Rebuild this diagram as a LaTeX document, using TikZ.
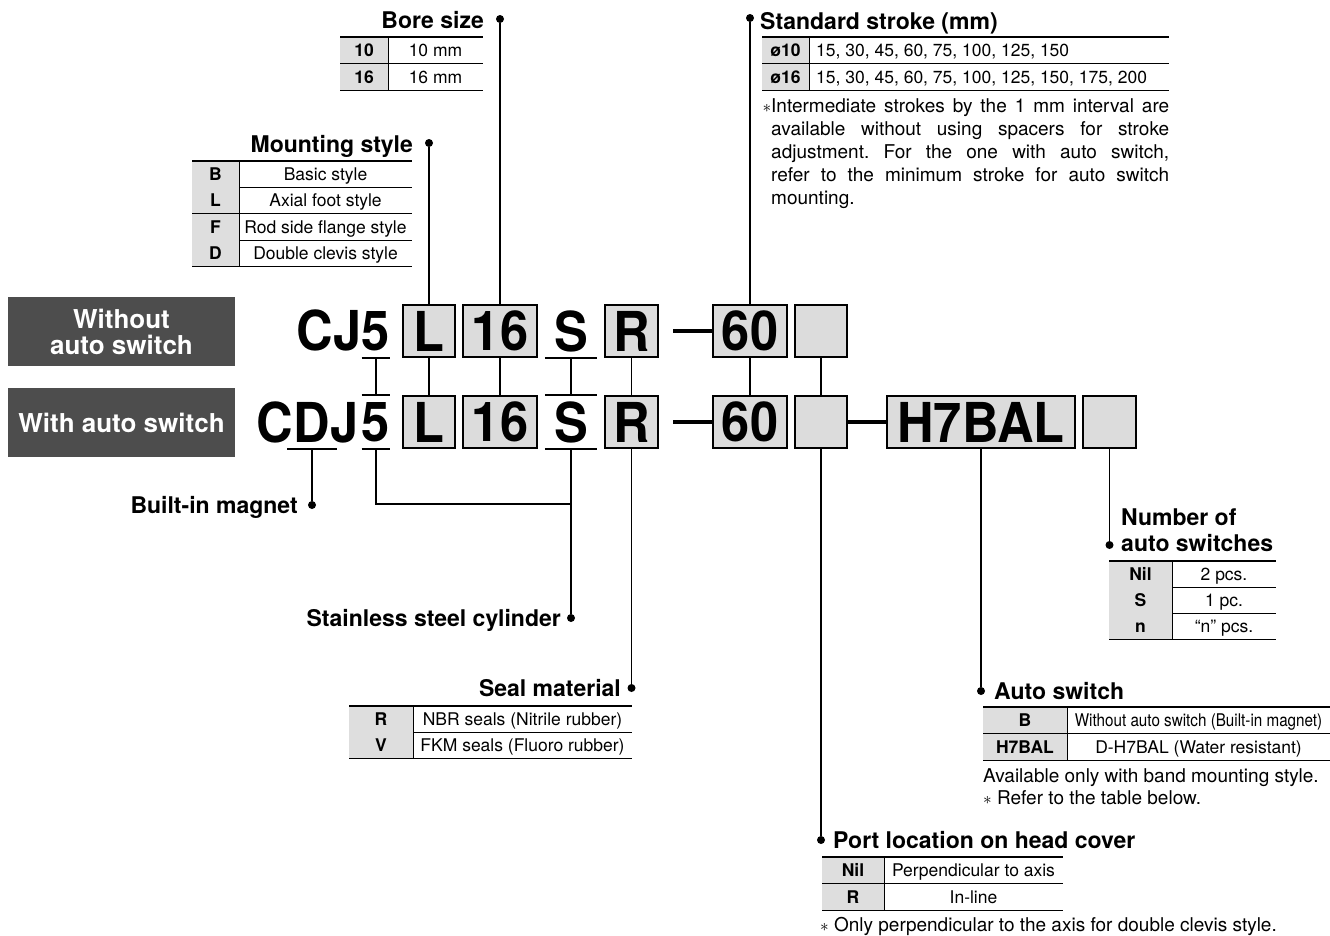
\documentclass[tikz,border=0pt]{standalone}
\usepackage{fontspec}
\usepackage{graphicx}
\setmainfont{TeX Gyre Heros}
\newfontfamily\codefont[FakeStretch=0.92]{TeX Gyre Heros}
\definecolor{boxgray}{HTML}{DCDCDC}
\definecolor{keygray}{HTML}{DEDEDE}
\definecolor{taggray}{HTML}{4D4D4D}
\frenchspacing
\tikzset{
	codebox/.style={draw,line width=1.6pt,fill=boxgray,inner sep=0pt,minimum height=52,font=\codefont\bfseries\fontsize{55}{55}\selectfont},
	barecode/.style={inner sep=0pt,minimum height=54,font=\codefont\bfseries\fontsize{55}{55}\selectfont},
	dotnode/.style={circle,fill,inner sep=0pt,minimum size=8},
	headtxt/.style={inner sep=0pt,font=\bfseries\fontsize{23}{26}\selectfont},
	valcell/.style={inner sep=0pt,text height=12.6pt,text depth=0pt,font=\fontsize{17.5}{20}\selectfont},
	keycell/.style={inner sep=0pt,text height=12.6pt,text depth=0pt,font=\bfseries\fontsize{17.5}{20}\selectfont},
	notetxt/.style={inner sep=0pt,font=\fontsize{19}{23}\selectfont},
	tagbox/.style={fill=taggray,text=white,inner sep=0pt,align=center,minimum width=227,minimum height=69,font=\bfseries\fontsize{26}{26}\selectfont},
	conn/.style={line width=1.6pt},
}
% #1 name, #2 left, #3 key column, #4 right, #5 top, #6 row height, #7 value options, #8 rows
\newcommand\spectab[8]{
	\foreach \k/\v [count=\i] in {#8}{
		\fill[keygray] (#2,{#5+(\i-1)*#6}) rectangle (#3,{#5+\i*#6});
		\node[keycell] (#1k\i) at ({(#2+#3)/2},{#5+(\i-0.5)*#6}) {\k};
		\node[valcell,#7] (#1v\i) at ({(#3+#4)/2},{#5+(\i-0.5)*#6}) {\v};
		\draw[line width=.8pt] (#2,{#5+\i*#6}) -- (#4,{#5+\i*#6});
		\draw[line width=.8pt] (#3,{#5+(\i-1)*#6}) -- (#3,{#5+\i*#6});
	}
	\draw[line width=2.4pt] (#2,#5) -- (#4,#5);
}
\begin{document}
\begin{tikzpicture}[x=1pt,y=-1pt]
	\useasboundingbox (0,0) rectangle (1330,935);
	\node[tagbox] (tagA) at (121.5,331.5) {Without\\auto switch};
	\node[tagbox] (tagB) at (121.5,422.5) {With auto switch};
	% first row
	\node[barecode,minimum width=26] (f1) at (376,331) {5};
	\node[barecode,anchor=base east] (cj1) at (f1.base west) {CJ};
	\node[codebox,minimum width=52] (L1) at (429,331) {L};
	\node[codebox,minimum width=74] (B1) at (500,331) {16};
	\node[barecode,minimum width=52] (S1) at (571,331) {S};
	\node[codebox,minimum width=53] (R1) at (631.5,331) {R};
	\node[codebox,minimum width=74] (T1) at (750,331) {60};
	\node[codebox,minimum width=52] (P1) at (821,331) {};
	\coordinate (m1) at (673,331);
	% second row
	\node[barecode,minimum width=26] (f2) at (376,422) {5};
	\node[barecode,minimum width=49] (D2) at (312,422) {D};
	\node[barecode,anchor=base east,xshift=6] (c2) at (D2.base west) {C};
	\node[barecode,anchor=base west,xshift=-6] (j2) at (D2.base east) {J};
	\node[codebox,minimum width=52] (L2) at (429,422) {L};
	\node[codebox,minimum width=74] (B2) at (500,422) {16};
	\node[barecode,minimum width=52] (S2) at (571,422) {S};
	\node[codebox,minimum width=53] (R2) at (631.5,422) {R};
	\node[codebox,minimum width=74] (T2) at (750,422) {60};
	\node[codebox,minimum width=52] (P2) at (821,422) {};
	\node[codebox,minimum width=188] (H2) at (981,422) {H7BAL};
	\node[codebox,minimum width=53] (N2) at (1109.5,422) {};
	\coordinate (m2) at (673,422);
	\foreach \n in {f1,S1,f2,S2,D2} \draw[conn] (\n.south west) -- (\n.south east);
	\foreach \n in {f2,S2} \draw[conn] (\n.north west) -- (\n.north east);
	\draw[line width=3.5pt] (m1) -- (T1.west) (m2) -- (T2.west) (P2.east) -- (H2.west);
	% headings
	\node[dotnode] (dBore) at (500,19) {};
	\node[headtxt,anchor=base east] (hBore) at (484,28) {Bore size};
	\node[dotnode] (dMount) at (429,143) {};
	\node[headtxt,anchor=base east] (hMount) at (413,152) {Mounting style};
	\node[dotnode] (dStroke) at (750,18) {};
	\node[headtxt,anchor=base west] (hStroke) at (760,29) {Standard stroke (mm)};
	\node[dotnode] (dMag) at (312,505) {};
	\node[headtxt,anchor=base east] (hMag) at (298,513) {Built-in magnet};
	\node[dotnode] (dSteel) at (571,618) {};
	\node[headtxt,anchor=base east] (hSteel) at (561,626) {Stainless steel cylinder};
	\node[dotnode] (dSeal) at (631.5,688) {};
	\node[headtxt,anchor=base east] (hSeal) at (621,696) {Seal material};
	\node[dotnode] (dNum) at (1109.5,545) {};
	\node[headtxt,anchor=base west] (hNumA) at (1121,525) {Number of};
	\node[headtxt,anchor=base west] (hNumB) at (1121,551) {auto switches};
	\node[dotnode] (dSw) at (981,691) {};
	\node[headtxt,anchor=base west] (hSw) at (994,699) {Auto switch};
	\node[dotnode] (dPort) at (821,840) {};
	\node[headtxt,anchor=base west] (hPort) at (833,848) {Port location on head cover};
	% connectors
	\draw[conn] (dBore) -- (B1.north) (dMount) -- (L1.north) (dStroke) -- (T1.north);
	\foreach \a/\b in {f1/f2,L1/L2,B1/B2,S1/S2,R1/R2,T1/T2,P1/P2}
		\draw[conn] (\a.south) -- (\b.north);
	\coordinate (jn) at (571,504);
	\draw[conn] (f2.south) |- (jn);
	\draw[conn] (D2.south) -- (dMag) (S2.south) -- (dSteel) (R2.south) -- (dSeal)
		(P2.south) -- (dPort) (H2.south) -- (dSw) (N2.south) -- (dNum);
	% tables
	\spectab{bore}{340}{388}{483}{37}{26.5}{}{10/10 mm,16/16 mm}
	\spectab{mount}{192}{239}{412}{161}{26.3}{}{B/Basic style,L/Axial foot style,F/Rod side flange style,D/Double clevis style}
	\spectab{stroke}{762}{809}{1169}{37}{26.5}{anchor=west,xshift=-173}{ø10/{15, 30, 45, 60, 75, 100, 125, 150},ø16/{15, 30, 45, 60, 75, 100, 125, 150, 175, 200}}
	\spectab{seal}{349}{413}{632}{706}{26}{}{R/NBR seals (Nitrile rubber),V/FKM seals (Fluoro rubber)}
	\spectab{num}{1109}{1172}{1276}{561}{26}{}{Nil/2 pcs.,S/1 pc.,n/“n” pcs.}
	\spectab{sw}{983}{1067}{1330}{707}{26.5}{}{B/\scalebox{0.87}[1]{Without auto switch (Built-in magnet)},H7BAL/D-H7BAL (Water resistant)}
	\spectab{port}{822}{884}{1063}{857}{26.5}{}{Nil/Perpendicular to axis,R/In-line}
	% notes
	\node[notetxt,anchor=north west,text width=398pt,align=justify] (nStroke) at (771,98) {\llap{$\ast$}Intermediate strokes by the 1 mm interval are\linebreak available without using spacers for stroke\linebreak adjustment. For the one with auto switch,\linebreak refer to the minimum stroke for auto switch\linebreak mounting.};
	\node[notetxt,anchor=base west] (nSwA) at (983,782) {Available only with band mounting style.};
	\node[notetxt,anchor=base west] (nSwB) at (983,804) {$\ast$ Refer to the table below.};
	\node[notetxt,anchor=base west] (nPort) at (820,931) {$\ast$ Only perpendicular to the axis for double clevis style.};
\end{tikzpicture}
\end{document}
